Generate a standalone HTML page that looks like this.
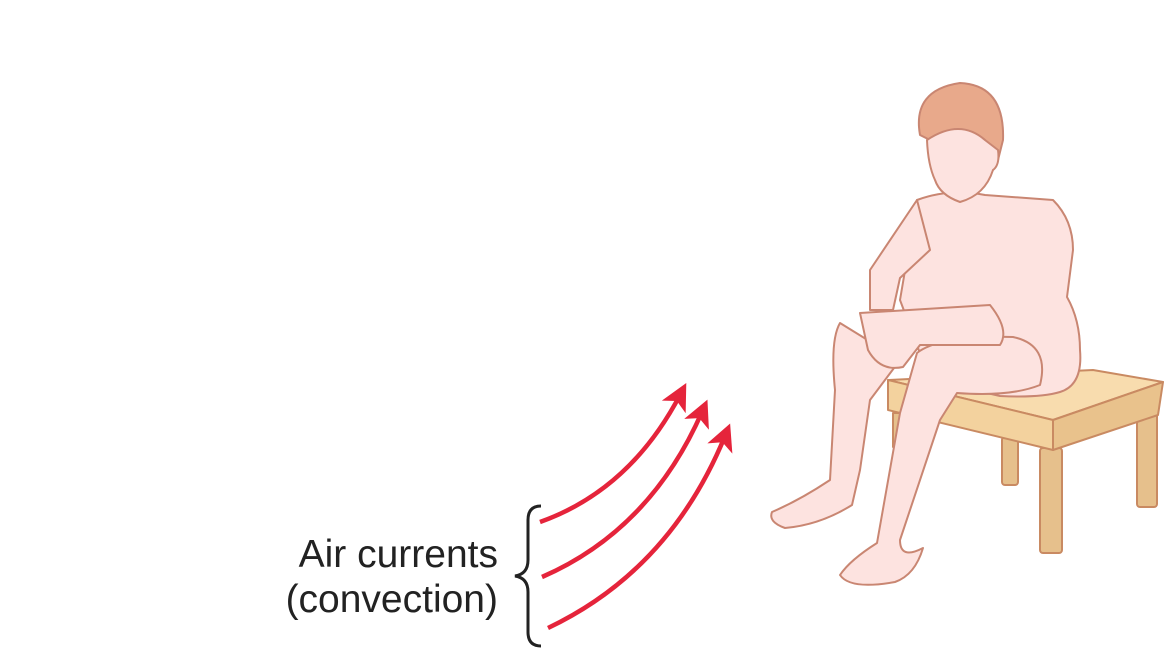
<!DOCTYPE html>
<html><head><meta charset="utf-8"><style>
html,body{margin:0;padding:0;background:#fff;width:1168px;height:657px;overflow:hidden}
svg{display:block}
text{font-family:"Liberation Sans",sans-serif}
</style></head><body>
<svg width="1168" height="657" viewBox="0 0 1168 657">
<defs><marker id="ah" markerWidth="6" markerHeight="6" refX="3" refY="3" orient="auto" markerUnits="strokeWidth"><path d="M0,0 L6,3 L0,6 L1.5,3 Z" fill="#e5243b"/></marker></defs>
<g>
<text x="498" y="567" font-size="39" text-anchor="end" fill="#222">Air currents</text>
<text x="498" y="612" font-size="39" text-anchor="end" fill="#222">(convection)</text>
</g>
<path d="M541,506 Q528,506 528,520 L528,560 Q528,574 515,576 Q528,578 528,592 L528,632 Q528,646 541,646" fill="none" stroke="#222" stroke-width="3"/>
<g fill="none" stroke="#e5243b" stroke-width="4.5">
<path d="M540,522 Q630,490 680,395" marker-end="url(#ah)"/>
<path d="M542,577 Q650,530 702,412" marker-end="url(#ah)"/>
<path d="M548,628 Q670,570 725,436" marker-end="url(#ah)"/>
</g>
<g stroke="#c98a62" stroke-width="2" stroke-linejoin="round">
<rect x="893" y="413" width="14" height="34" fill="#e6c08c"/>
<rect x="1002" y="437" width="16" height="48" rx="3" fill="#e6c08c"/>
<rect x="1137" y="413" width="20" height="94" rx="3" fill="#e6c08c"/>
<rect x="1040" y="448" width="22" height="105" rx="3" fill="#e6c08c"/>
<path d="M888,380 L1093,370 L1163,382 L1053,420 Z" fill="#f8dcae"/>
<path d="M888,380 L1053,420 L1053,450 L888,410 Z" fill="#f3d29e"/>
<path d="M1053,420 L1163,382 L1158,415 L1053,450 Z" fill="#e9c28c"/>
</g>
<g fill="#fde3e0" stroke="#c98672" stroke-width="2" stroke-linejoin="round">
<path d="M917,200 Q950,188 985,195 L1053,200 Q1073,220 1073,250 L1067,297 Q1080,320 1080,350 Q1083,385 1060,392 Q1040,398 1000,396 L930,380 L900,300 Z"/>
<path d="M840,323 Q830,340 835,390 L830,480 Q800,500 772,512 Q768,522 785,528 Q820,525 852,505 L860,470 L870,400 L900,360 Z"/>
<path d="M917,200 L870,270 L870,310 L893,310 L900,278 L930,250 Z"/>
<path d="M917,353 Q940,335 1013,337 Q1050,345 1040,385 Q1010,397 957,393 L940,420 L900,540 Q900,560 923,548 Q915,575 895,582 Q850,590 840,575 Q850,560 877,543 L900,413 Z"/>
<path d="M860,313 L990,305 Q1010,330 1000,345 L920,345 L903,367 Q880,372 868,350 Z"/>
<path fill="#e8a98b" d="M920,135 Q912,90 960,83 Q1005,85 1003,140 L998,160 L985,140 Q960,120 930,140 Z"/>
<path d="M927,140 Q960,118 985,140 L998,150 Q1000,165 993,170 Q985,195 960,202 Q940,195 935,180 Q928,165 927,140 Z"/>
</g>
</svg>
</body></html>
